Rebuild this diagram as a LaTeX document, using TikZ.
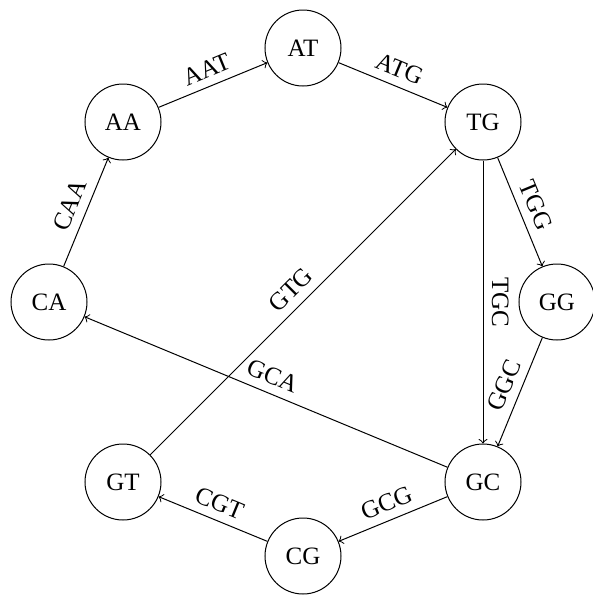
\documentclass[tikz,border=0pt]{standalone}
\usepackage{fontspec}
\setmainfont{Liberation Serif}
\begin{document}
\begin{tikzpicture}[x=0.4pt,y=-0.4pt,>=to,
  state/.style={circle,draw,line width=0.4pt,minimum size=30.4pt,inner sep=0pt,font=\fontsize{10}{12}\selectfont},
  lbl/.style={sloped,above,font=\fontsize{10}{12}\selectfont},
  edge/.style={->,line width=0.4pt}]
\useasboundingbox (0,0) rectangle (593,595);
\node[state] (AT) at (303,48) {AT};
\node[state] (TG) at (483,122) {TG};
\node[state] (GG) at (557,302) {GG};
\node[state] (GC) at (483,482) {GC};
\node[state] (CG) at (303,556) {CG};
\node[state] (GT) at (123,482) {GT};
\node[state] (CA) at (49,302) {CA};
\node[state] (AA) at (123,122) {AA};
\draw[edge] (CA) -- node[lbl] {CAA} (AA);
\draw[edge] (AA) -- node[lbl] {AAT} (AT);
\draw[edge] (AT) -- node[lbl] {ATG} (TG);
\draw[edge] (TG) -- node[lbl] {TGG} (GG);
\draw[edge] (TG) -- node[lbl] {TGC} (GC);
\draw[edge] (GG) -- node[lbl] {GGC} (GC);
\draw[edge] (GC) -- node[lbl] {GCG} (CG);
\draw[edge] (CG) -- node[lbl] {CGT} (GT);
\draw[edge] (GC) -- node[lbl] {GCA} (CA);
\draw[edge] (GT) -- node[lbl] {GTG} (TG);
\end{tikzpicture}
\end{document}
